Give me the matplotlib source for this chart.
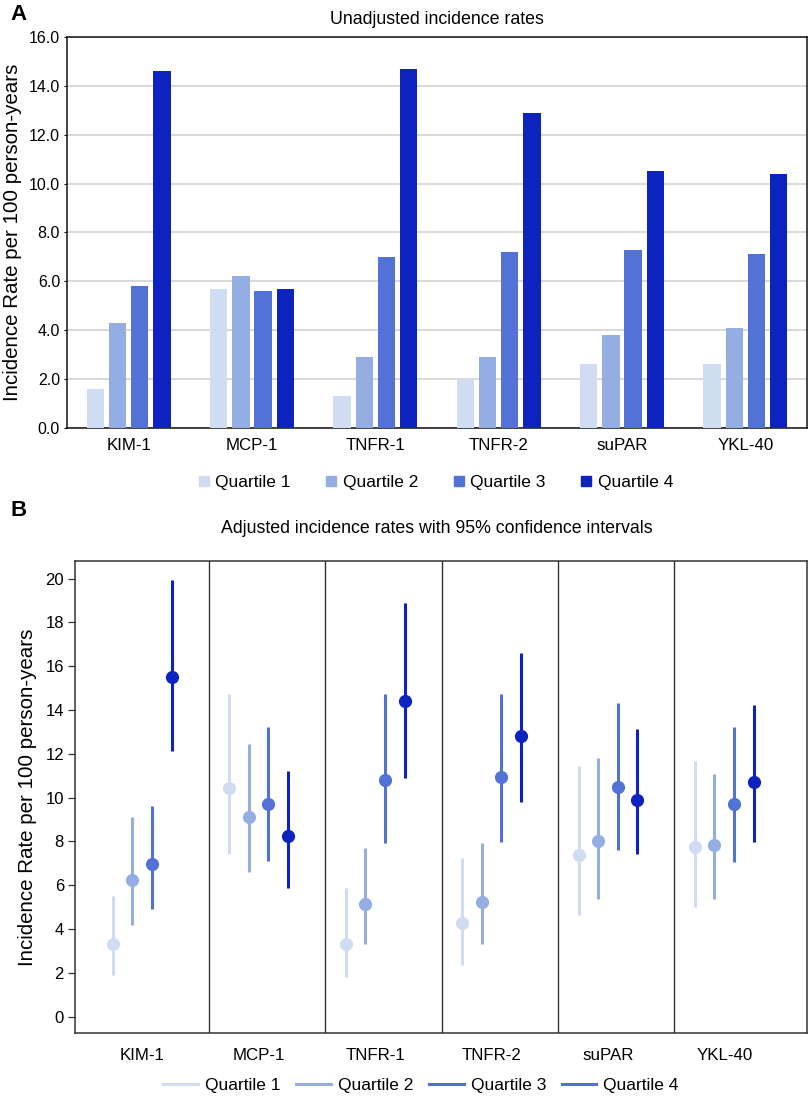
import matplotlib
matplotlib.use("Agg")
import matplotlib.pyplot as plt
from matplotlib.lines import Line2D
import numpy as np

# ---------------- data ----------------
markers_names = ["KIM-1", "MCP-1", "TNFR-1", "TNFR-2", "suPAR", "YKL-40"]
quartile_labels = ["Quartile 1", "Quartile 2", "Quartile 3", "Quartile 4"]

# Panel A: unadjusted incidence rates (per quartile, across markers)
unadj_q1 = [1.6, 5.7, 1.3, 2.0, 2.6, 2.6]
unadj_q2 = [4.3, 6.2, 2.9, 2.9, 3.8, 4.1]
unadj_q3 = [5.8, 5.6, 7.0, 7.2, 7.3, 7.1]
unadj_q4 = [14.6, 5.7, 14.7, 12.9, 10.5, 10.4]

# Panel B: adjusted incidence rates with 95% CI
adj_q1 = [3.33, 10.44, 3.33, 4.26, 7.37, 7.74]
adj_q1_lo = [1.91, 7.42, 1.80, 2.37, 4.64, 4.99]
adj_q1_hi = [5.50, 14.72, 5.88, 7.22, 11.44, 11.69]

adj_q2 = [6.23, 9.10, 5.15, 5.22, 8.03, 7.85]
adj_q2_lo = [4.20, 6.60, 3.31, 3.31, 5.39, 5.39]
adj_q2_hi = [9.11, 12.44, 7.69, 7.91, 11.82, 11.08]

adj_q3 = [6.98, 9.69, 10.79, 10.92, 10.50, 9.69]
adj_q3_lo = [4.89, 7.10, 7.91, 7.97, 7.59, 7.08]
adj_q3_hi = [9.60, 13.22, 14.73, 14.72, 14.32, 13.22]

adj_q4 = [15.50, 8.24, 14.41, 12.79, 9.91, 10.72]
adj_q4_lo = [12.14, 5.88, 10.89, 9.79, 7.40, 7.98]
adj_q4_hi = [19.92, 11.21, 18.90, 16.61, 13.11, 14.21]

# ---------------- style ----------------
plt.rcParams["font.family"] = ["Liberation Sans", "DejaVu Sans"]

colors = ["#D0DCF2", "#94AEE4", "#5272D8", "#0D23C0"]
legend_line_colors = ["#D0DCF2", "#94AEE4", "#5070D6", "#5070D6"]

W, H = 810, 1105
fig = plt.figure(figsize=(W / 100, H / 100), dpi=100)


def ax_rect(left, top, right, bottom):
    return [left / W, 1 - bottom / H, (right - left) / W, (bottom - top) / H]


FS_TICK = 11.5
FS_X = 12.2
FS_TITLE = 12.8
FS_LEG = 12.5
FS_YLAB = 14.8

# ---------------- Panel A ----------------
axA = fig.add_axes(ax_rect(67, 37, 807, 428))
x = np.arange(len(markers_names))
step, bw = 0.18, 0.14
seriesA = [unadj_q1, unadj_q2, unadj_q3, unadj_q4]
for i, vals in enumerate(seriesA):
    axA.bar(x + (i - 1.5) * step, vals, width=bw, color=colors[i],
            label=quartile_labels[i], zorder=3, linewidth=0)
axA.set_xlim(-0.5, 5.5)
axA.set_ylim(0, 16)
axA.set_yticks(np.arange(0, 16.1, 2))
axA.set_yticklabels([f"{v:.1f}" for v in np.arange(0, 16.1, 2)], fontsize=FS_TICK)
axA.set_xticks(x)
axA.set_xticklabels(markers_names, fontsize=FS_X)
axA.tick_params(axis="x", length=0, pad=7)
axA.tick_params(axis="y", length=2, width=0.8, pad=3)
axA.yaxis.grid(True, color="#D3D3D3", linewidth=1.2, zorder=0)
axA.set_axisbelow(True)
for s in axA.spines.values():
    s.set_color("#111111")
    s.set_linewidth(1.1)
axA.set_ylabel("Incidence Rate per 100 person-years", fontsize=FS_YLAB,
               labelpad=5)

handlesA = [Line2D([], [], marker="s", linestyle="none", markersize=7,
                   markerfacecolor=c, markeredgecolor=c) for c in colors]
fig.legend(handlesA, quartile_labels, loc="center", ncol=4, frameon=False,
           bbox_to_anchor=(435 / W, 1 - 482 / H), fontsize=FS_LEG,
           handletextpad=0.25, columnspacing=1.95, handlelength=0.8)

fig.text(437 / W, 1 - 20 / H, "Unadjusted incidence rates", ha="center",
         va="center", fontsize=FS_TITLE)
fig.text(10 / W, 1 - 15 / H, "A", ha="left", va="center", fontsize=16,
         fontweight="bold")

# ---------------- Panel B ----------------
axB = fig.add_axes(ax_rect(75, 561, 807, 1033))
pts = [adj_q1, adj_q2, adj_q3, adj_q4]
los = [adj_q1_lo, adj_q2_lo, adj_q3_lo, adj_q4_lo]
his = [adj_q1_hi, adj_q2_hi, adj_q3_hi, adj_q4_hi]
offsets = [-0.253, -0.086, 0.082, 0.253]
for i in range(4):
    xx = x + offsets[i]
    axB.vlines(xx, los[i], his[i], color=colors[i], linewidth=2.2, zorder=3)
    axB.plot(xx, pts[i], "o", color=colors[i], markersize=9.5, zorder=4,
             markeredgewidth=0)
for sep in x[:-1] + 0.57:
    axB.axvline(sep, color="#333333", linewidth=1.0, zorder=2)
axB.set_xlim(-0.58, 5.71)
axB.set_ylim(-0.75, 20.8)
axB.set_yticks(np.arange(0, 21, 2))
axB.set_yticklabels([str(v) for v in range(0, 21, 2)], fontsize=FS_TICK + 0.5)
axB.set_xticks(x)
axB.set_xticklabels(markers_names, fontsize=FS_X)
axB.tick_params(axis="x", length=0, pad=11)
axB.tick_params(axis="y", length=5, width=0.9, color="#333333", pad=3)
for s in axB.spines.values():
    s.set_color("#333333")
    s.set_linewidth(1.1)
axB.set_ylabel("Incidence Rate per 100 person-years", fontsize=FS_YLAB,
               labelpad=6)

handlesB = [Line2D([], [], color=c, linewidth=2.2) for c in legend_line_colors]
fig.legend(handlesB, quartile_labels, loc="center", ncol=4, frameon=False,
           bbox_to_anchor=(421 / W, 1 - 1085 / H), fontsize=FS_LEG,
           handletextpad=0.4, columnspacing=0.9, handlelength=2.0)

fig.text(437 / W, 1 - 528 / H,
         "Adjusted incidence rates with 95% confidence intervals",
         ha="center", va="center", fontsize=FS_TITLE)
fig.text(10 / W, 1 - 511 / H, "B", ha="left", va="center", fontsize=16,
         fontweight="bold")

fig.savefig("out.png", dpi=100)
